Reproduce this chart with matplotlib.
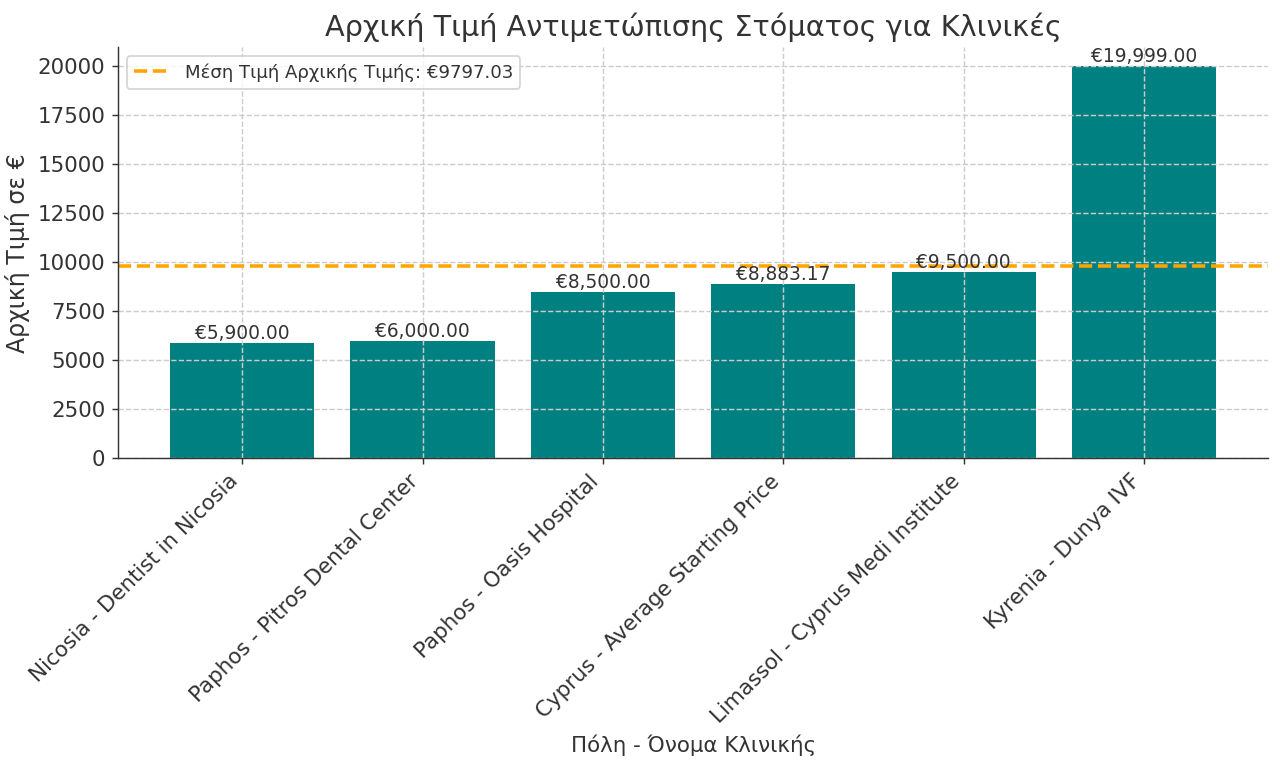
import matplotlib
matplotlib.use("Agg")
import matplotlib.pyplot as plt
import numpy as np

# data
clinics = [
    "Nicosia - Dentist in Nicosia",
    "Paphos - Pitros Dental Center",
    "Paphos - Oasis Hospital",
    "Cyprus - Average Starting Price",
    "Limassol - Cyprus Medi Institute",
    "Kyrenia - Dunya IVF",
]
prices = [5900.00, 6000.00, 8500.00, 8883.17, 9500.00, 19999.00]
mean_price = 9797.03

TXT = "#333333"
plt.rcParams["text.color"] = TXT
plt.rcParams["axes.labelcolor"] = TXT
plt.rcParams["xtick.color"] = TXT
plt.rcParams["ytick.color"] = TXT
plt.rcParams["axes.edgecolor"] = TXT

fig, ax = plt.subplots(figsize=(10, 6), dpi=128)

bars = ax.bar(clinics, prices, color="teal", width=0.8)
ax.axhline(mean_price, color="orange", linestyle="--", linewidth=2,
           label=f"Μέση Τιμή Αρχικής Τιμής: €{mean_price:.2f}")

for b, p in zip(bars, prices):
    ax.text(b.get_x() + b.get_width() / 2, b.get_height(), f"€{p:,.2f}",
            ha="center", va="bottom", fontsize=10.5)

ax.set_title("Αρχική Τιμή Αντιμετώπισης Στόματος για Κλινικές", fontsize=16.2)
ax.set_xlabel("Πόλη - Όνομα Κλινικής", fontsize=12)
ax.set_ylabel("Αρχική Τιμή σε €", fontsize=13.3)
ax.tick_params(axis="both", labelsize=12)
plt.setp(ax.get_xticklabels(), rotation=45, ha="right")

ax.grid(True, linestyle="--", color="#cccccc", linewidth=0.8)
ax.spines["top"].set_visible(False)
ax.spines["right"].set_visible(False)
ax.legend(loc="upper left", fontsize=10.2)

fig.subplots_adjust(left=0.092, right=0.991, top=0.939, bottom=0.403)
plt.savefig("out.png", dpi=128)
